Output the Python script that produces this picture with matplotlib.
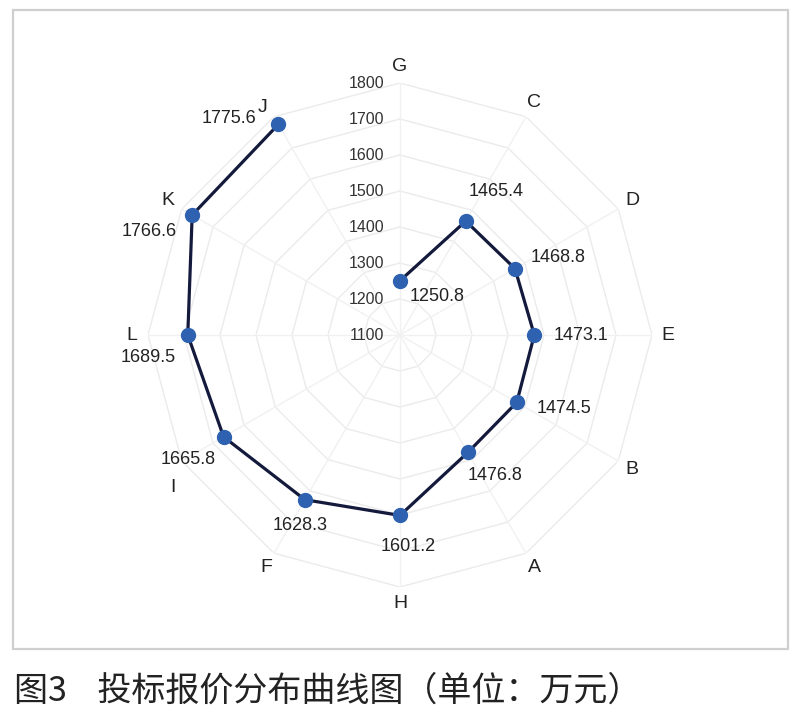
import numpy as np
import matplotlib
matplotlib.use("Agg")
import matplotlib.pyplot as plt
from matplotlib.patches import Rectangle
from matplotlib.transforms import offset_copy

plt.rcParams['font.family'] = ['Liberation Sans', 'DejaVu Sans']

# 数据（顺时针，从顶部开始）
categories = ['G', 'C', 'D', 'E', 'B', 'A', 'H', 'F', 'I', 'L', 'K', 'J']
values = [1250.8, 1465.4, 1468.8, 1473.1, 1474.5, 1476.8,
          1601.2, 1628.3, 1665.8, 1689.5, 1766.6, 1775.6]
r_ticks = [1100, 1200, 1300, 1400, 1500, 1600, 1700, 1800]

# 数值标签中心偏移（像素，相对数据点）
label_offsets = [(37, -16), (30, 30), (43, 11), (47, 0), (47, -6), (27, -23),
                 (8, -31), (-5, -26), (-35, -23), (-40, -22), (-43, -16), (-49, 6)]
# 类别标签额外偏移（像素）
cat_offsets = {'I': (5, -18), 'J': (-3, -5)}

W, H = 800, 724
fig = plt.figure(figsize=(W / 100, H / 100), dpi=100)
fig.patch.set_facecolor('white')

# 外框
fig.add_artist(Rectangle((13 / W, 1 - 649 / H), (788 - 13) / W, (649 - 10) / H,
                         transform=fig.transFigure, fill=False,
                         edgecolor='#cfcfcf', linewidth=1.6))

cx, cy, R = 400, 335, 252
ax = fig.add_axes([(cx - R) / W, 1 - (cy + R) / H, 2 * R / W, 2 * R / H],
                  projection='polar')
ax.set_theta_zero_location('N')
ax.set_theta_direction(-1)
ax.set_ylim(1100, 1800)
ax.set_xticks([])
ax.set_yticks([])
ax.grid(False)
ax.spines['polar'].set_visible(False)
ax.patch.set_alpha(0)

n = len(categories)
angles = np.linspace(0, 2 * np.pi, n, endpoint=False)
closed = np.append(angles, angles[0])

# 多边形网格
for t in r_ticks[1:]:
    ax.plot(closed, [t] * (n + 1), color='#ebebeb', linewidth=1.0, zorder=1)
for a in angles:
    ax.plot([a, a], [1100, 1800], color='#f1f1f1', linewidth=1.0, zorder=1)

# 径向刻度标签
for t in r_ticks:
    tr = offset_copy(ax.transData, fig=fig, x=-16, y=0, units='dots')
    ax.text(0, t, str(t), transform=tr, ha='right', va='center',
            fontsize=11.5, color='#333333')

# 类别标签
for a, c in zip(angles, categories):
    dx, dy = cat_offsets.get(c, (0, 0))
    tr = offset_copy(ax.transData, fig=fig, x=dx, y=dy, units='dots')
    ax.text(a, 1845, c, transform=tr, ha='center', va='center',
            fontsize=14, color='#222222', clip_on=False)

# 数据线与点
ax.plot(angles, values, color='#141a3c', linewidth=2.3, zorder=3)
ax.plot(angles, values, 'o', color='#2e62b0', markersize=10, zorder=4)

# 数值标签
for a, v, (dx, dy) in zip(angles, values, label_offsets):
    tr = offset_copy(ax.transData, fig=fig, x=dx, y=dy, units='dots')
    ax.text(a, v, f'{v}', transform=tr, ha='center', va='center',
            fontsize=13, color='#222222', zorder=5, clip_on=False)

# 图题
fig.text(14 / W, 1 - 691 / H, '图3    投标报价分布曲线图（单位：万元）',
         family=['Noto Sans CJK SC', 'DejaVu Sans'], fontsize=24.5,
         ha='left', va='center', color='#222222')

fig.savefig('out.png', dpi=100, facecolor='white')
